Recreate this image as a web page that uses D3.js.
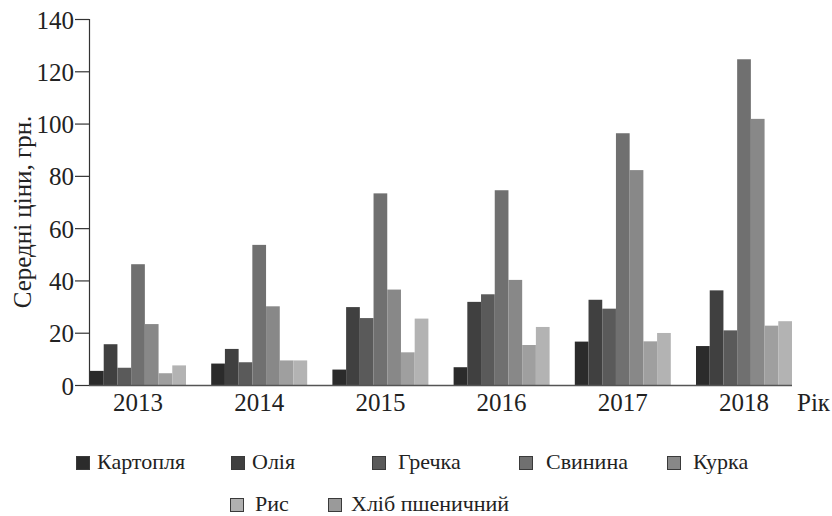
<!DOCTYPE html>
<html>
<head>
<meta charset="utf-8">
<script src="https://cdn.jsdelivr.net/npm/d3@7"></script>
</head>
<body style="margin:0">
<svg id="chart" width="832" height="516" style="font-family: 'Liberation Serif', 'Times New Roman', Tinos, FreeSerif"></svg>
<script>
const years = ['2013', '2014', '2015', '2016', '2017', '2018']

// bar order inside each year group (left to right)
const series = ['Картопля', 'Олія', 'Гречка', 'Свинина', 'Курка', 'Хліб пшеничний', 'Рис']
const colors = ['#2b2b2b', '#404040', '#5a5a5a', '#707070', '#888888', '#9f9f9f', '#b3b3b3']

const kartoplia = [5.4, 8.2, 5.9, 6.8, 16.6, 14.9]
const oliia = [15.6, 13.8, 29.8, 31.8, 32.6, 36.2]
const grechka = [6.6, 8.7, 25.6, 34.7, 29.2, 20.9]
const svynyna = [46.2, 53.6, 73.3, 74.5, 96.3, 124.6]
const kurka = [23.3, 30.1, 36.5, 40.2, 82.2, 101.8]
const khlib = [4.5, 9.4, 12.5, 15.3, 16.7, 22.7]
const rys = [7.5, 9.4, 25.4, 22.2, 19.9, 24.4]
const values = [kartoplia, oliia, grechka, svynyna, kurka, khlib, rys]

const yTicks = [0, 20, 40, 60, 80, 100, 120, 140]

// legend rows as they appear under the chart
const legendRow1 = ['Картопля', 'Олія', 'Гречка', 'Свинина', 'Курка']
const legendRow2 = ['Рис', 'Хліб пшеничний']
const legendColors = {
  'Картопля': '#2b2b2b', 'Олія': '#404040', 'Гречка': '#5a5a5a',
  'Свинина': '#707070', 'Курка': '#888888', 'Рис': '#b0b0b0', 'Хліб пшеничний': '#9a9a9a',
}

const svg = d3.select('#chart')
const plotLeft = 89, plotBottom = 385, plotTop = 19

const x0 = d3.scaleBand().domain(years).range([90, 792]).paddingInner(0.208).paddingOuter(0)
const x1 = d3.scaleBand().domain(series).range([0, x0.bandwidth()])
const y = d3.scaleLinear().domain([0, 140]).range([plotBottom, plotTop])

// bars
const groups = svg.selectAll('g.year')
    .data(years)
    .enter()
    .append('g')
    .attr('class', 'year')
    .attr('transform', (d) => `translate(${x0(d)},0)`)

groups.selectAll('rect')
    .data((d, i) => series.map((s, j) => ({s, v: values[j][i], c: colors[j]})))
    .enter()
    .append('rect')
    .attr('x', (d) => x1(d.s))
    .attr('width', x1.bandwidth())
    .attr('y', (d) => y(d.v))
    .attr('height', (d) => plotBottom - y(d.v))
    .attr('fill', (d) => d.c)

// y axis (drop d3's own sans-serif so the svg font is inherited)
const yAxis = svg.append('g')
    .attr('transform', `translate(${plotLeft},0)`)
    .call(d3.axisLeft(y).tickValues(yTicks).tickSize(14).tickPadding(1).tickFormat(d3.format('d')))
yAxis.attr('font-family', null).attr('font-size', null)
yAxis.select('.domain').attr('stroke', '#333').attr('stroke-width', 1.2)
yAxis.selectAll('.tick line').attr('stroke', '#333').attr('stroke-width', 1.2)
yAxis.selectAll('.tick text')
    .attr('font-size', 25)
    .attr('fill', '#222')
    .attr('dy', '0.36em')

// x axis baseline
svg.append('line')
    .attr('x1', plotLeft).attr('x2', 792)
    .attr('y1', plotBottom + 0.5).attr('y2', plotBottom + 0.5)
    .attr('stroke', '#555').attr('stroke-width', 1.6)

svg.append('g').selectAll('text')
    .data(years)
    .enter()
    .append('text')
    .attr('x', (d) => x0(d) + x0.bandwidth() / 2)
    .attr('y', 411)
    .attr('text-anchor', 'middle')
    .attr('font-size', 25)
    .attr('fill', '#222')
    .text((d) => d)

svg.append('text')
    .attr('x', 797)
    .attr('y', 411)
    .attr('font-size', 25)
    .attr('fill', '#222')
    .text('Рік')

svg.append('text')
    .attr('transform', 'translate(31,212) rotate(-90)')
    .attr('text-anchor', 'middle')
    .attr('font-size', 25)
    .attr('fill', '#222')
    .text('Середні ціни, грн.')

// legend
const legendPos = {
  'Картопля': [76, 469], 'Олія': [231, 469], 'Гречка': [372, 469],
  'Свинина': [519, 469], 'Курка': [667, 469],
  'Рис': [230, 511], 'Хліб пшеничний': [328, 511],
}
const legendGap = {'Картопля': 21, 'Олія': 21, 'Гречка': 26, 'Свинина': 27, 'Курка': 26, 'Рис': 25, 'Хліб пшеничний': 23}
const legend = svg.append('g').selectAll('g')
    .data(legendRow1.concat(legendRow2))
    .enter()
    .append('g')
    .attr('transform', (d) => `translate(${legendPos[d][0]},${legendPos[d][1]})`)

legend.append('rect')
    .attr('x', 0.5).attr('y', -12.5)
    .attr('width', 13).attr('height', 13)
    .attr('fill', (d) => legendColors[d])
    .attr('stroke', '#3a3a3a').attr('stroke-width', 1)

legend.append('text')
    .attr('x', (d) => legendGap[d])
    .attr('y', 0)
    .attr('font-size', 22)
    .attr('fill', '#222')
    .text((d) => d)
</script>
</body>
</html>
